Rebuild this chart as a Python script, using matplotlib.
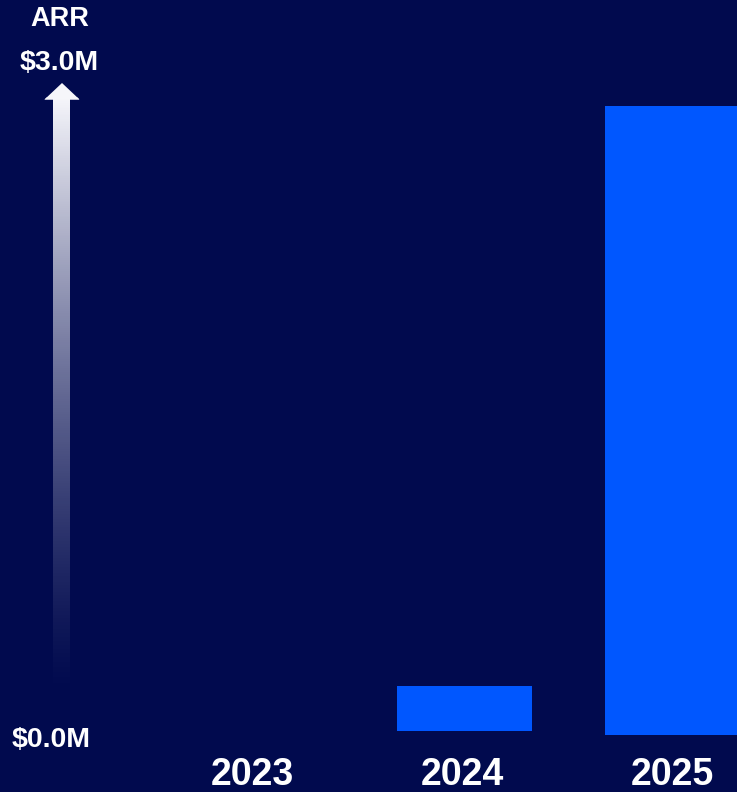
import numpy as np
import matplotlib
matplotlib.use("Agg")
import matplotlib.pyplot as plt
from matplotlib.patches import Polygon

# ARR by year, in $M
years = ["2023", "2024", "2025"]
arr_values = [0.0, 0.20, 2.80]
bar_bases = [0.0, 0.02, 0.0]
axis_labels = ["$0.0M", "$3.0M"]
axis_title = "ARR"

BG = "#010A4E"
BAR = "#0057FF"
FONT = ["Liberation Sans", "DejaVu Sans"]

W, H = 737, 792
fig = plt.figure(figsize=(W / 100, H / 100), dpi=100, facecolor=BG)

# main data axes spanning the whole canvas
ax = fig.add_axes([0, 0, 1, 1])
ax.set_facecolor(BG)
x = np.arange(len(years))
ax.bar(x, arr_values, bottom=bar_bases, width=0.65, color=BAR, linewidth=0)
ax.set_xlim(-1.233, 2.31)
ax.set_ylim(-0.2537, 3.2715)
ax.axis("off")

for xi, yr in zip(x, years):
    ax.text(xi * 1.01 - 0.02, -0.179, yr, ha="center", va="center", color="white",
            fontsize=27, fontweight="bold", family=FONT)

# overlay in pixel coordinates for the gradient arrow and axis labels
ov = fig.add_axes([0, 0, 1, 1], facecolor="none")
ov.set_xlim(0, W)
ov.set_ylim(H, 0)
ov.axis("off")

cx = 62
shaft_l, shaft_r = 53, 70
head_l, head_r = 44.5, 79.5
tip_y, head_y, tail_y = 83, 99.5, 700
arrow = Polygon([(shaft_l, tail_y), (shaft_l, head_y), (head_l, head_y), (cx, tip_y),
                 (head_r, head_y), (shaft_r, head_y), (shaft_r, tail_y)],
                closed=True, facecolor="none", edgecolor="none")
ov.add_patch(arrow)

n = 400
t = np.linspace(1, 0, n)  # top -> bottom
alpha = np.clip(t, 0, 1) ** 1.35
grad = np.ones((n, 1, 4))
grad[:, 0, :3] = [0.97, 0.97, 0.99]
grad[:, 0, 3] = alpha
im = ov.imshow(grad, extent=(head_l, head_r, tail_y, tip_y + 14), aspect="auto",
               interpolation="bilinear", zorder=2)
im.set_clip_path(arrow)
# solid arrowhead
ov.add_patch(Polygon([(head_l, head_y), (cx, tip_y), (head_r, head_y)], closed=True,
                     facecolor="#F6F6FA", edgecolor="none", zorder=3))

ov.text(60, 19, axis_title, ha="center", va="center", color="white",
        fontsize=19.5, fontweight="bold", family=FONT)
ov.text(59.5, 63, axis_labels[1], ha="center", va="center", color="white",
        fontsize=20.5, fontweight="bold", family=FONT)
ov.text(51.5, 740, axis_labels[0], ha="center", va="center", color="white",
        fontsize=20.5, fontweight="bold", family=FONT)

fig.savefig("out.png", dpi=100, facecolor=BG)
